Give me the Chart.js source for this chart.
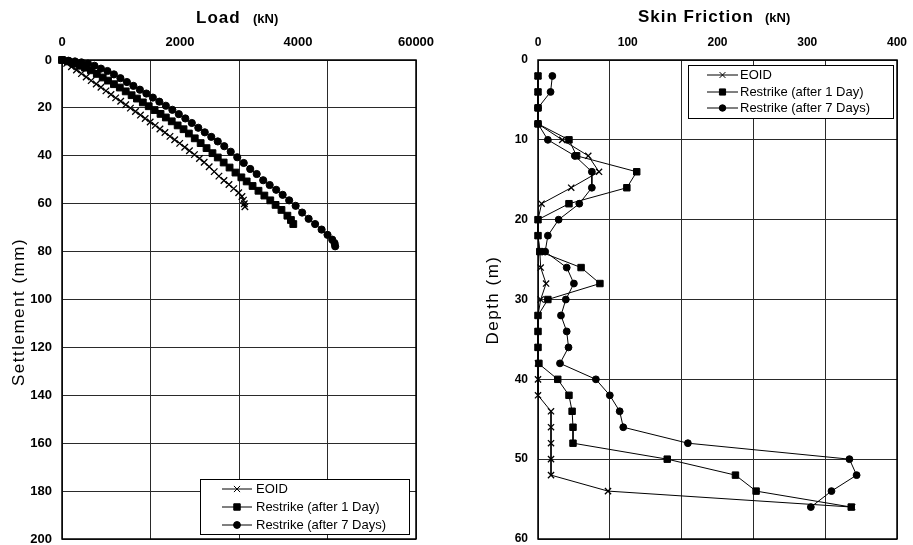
<!DOCTYPE html>
<html><head><meta charset="utf-8">
<script src="https://cdn.jsdelivr.net/npm/chart.js@4.4.1/dist/chart.umd.min.js"></script>
<style>
html,body{margin:0;padding:0;background:#fff;width:913px;height:545px;overflow:hidden}
canvas{position:absolute;top:0}
#c1{left:0}
#c2{left:460px}
</style></head><body>
<canvas id="c1" width="460" height="545"></canvas>
<canvas id="c2" width="453" height="545"></canvas>
<script>
// ---------- Left panel: Load vs Settlement ----------
const loadTicks = [0, 2000, 4000, 6000];
const loadTickLabels = ['0', '2000', '4000', '60000'];
const settlementTicks = [0, 20, 40, 60, 80, 100, 120, 140, 160, 180, 200];

const eoidLoad = [0,80,160,245,330,410,495,580,660,745,830,910,995,1080,1160,1245,1330,1410,1495,1580,1660,1745,1830,1910,1995,2080,2160,2245,2330,2410,2495,2580,2660,2745,2830,2910,2995,3050,3075,3090,3100];
const eoidSettlement = [0,1.4,2.8,4.2,5.7,7.1,8.6,10.0,11.4,12.9,14.4,15.8,17.2,18.7,20.1,21.5,23.0,24.4,25.9,27.3,28.8,30.3,31.9,33.3,34.8,36.4,37.9,39.5,41.1,42.7,44.6,46.6,48.5,50.3,52.0,53.7,55.4,57.0,58.5,60.0,61.3];

const day1Load = [0,100,200,300,390,490,590,690,780,880,980,1080,1180,1270,1370,1470,1570,1670,1760,1860,1960,2060,2150,2250,2350,2450,2550,2640,2740,2840,2940,3040,3130,3230,3330,3430,3530,3620,3720,3820,3880,3920];
const day1Settlement = [0,0.6,1.5,2.4,3.2,4.3,5.8,7.3,8.6,10.1,11.5,13.1,14.7,16.1,17.7,19.3,20.9,22.5,24.0,25.6,27.3,28.9,30.7,32.7,34.7,36.8,38.9,40.7,42.8,44.9,47.0,49.0,50.7,52.6,54.6,56.6,58.6,60.5,62.6,65.0,66.8,68.5];

const day7Load = [0,110,220,330,440,550,660,770,880,990,1100,1210,1320,1430,1540,1650,1760,1870,1980,2090,2200,2310,2420,2530,2640,2750,2860,2970,3080,3190,3300,3410,3520,3630,3740,3850,3960,4070,4180,4290,4400,4500,4580,4620,4630];
const day7Settlement = [0,0.3,0.6,1.0,1.5,2.4,3.6,4.6,6.0,7.6,9.2,10.8,12.4,14.0,15.7,17.4,19.1,20.8,22.6,24.4,26.3,28.3,30.2,32.1,34.0,36.0,38.3,40.6,43.0,45.5,47.6,50.2,52.2,54.2,56.3,58.6,60.9,63.7,66.3,68.5,70.8,73.0,75.0,76.5,77.8];

// ---------- Right panel: Skin friction vs Depth ----------
const frictionTicks = [0, 100, 200, 300, 400];
const depthTicks = [0, 10, 20, 30, 40, 50, 60];
const depth = [2,4,6,8,10,12,14,16,18,20,22,24,26,28,30,32,34,36,38,40,42,44,46,48,50,52,54,56];
const eoidFriction = [0,0,0,0,27,56,68,37,4,0,0,2,3,9,3,0,0,0,0,0,0,14.5,14.5,14.5,14.5,14.5,78,350];
const day1Friction = [0,0,0,0,34.5,43,110,99,34.5,0,0,2,48,69,11,0,0,0,1,22,34.5,38,39,39,144,220,243,349];
const day7Friction = [16,14,0,0,11,41,60,60,46,23,11,8,32,40,31,25.6,32,34,24.5,64.5,80,91,95,167,347,355,327,304];

const seriesLabels = ['EOID', 'Restrike (after 1 Day)', 'Restrike (after 7 Days)'];

const FONT = '"Liberation Sans", Arial, Helvetica, sans-serif';
const INK = '#000';
const GRID = '#2a2a2a';

function pts(xs, ys) { return xs.map((x, i) => ({ x: x, y: ys[i] })); }

function makeSets(d0, d1, d2, sc) {
  const base = { showLine: true, borderColor: INK, backgroundColor: INK, borderWidth: 1,
                 pointBorderColor: INK, pointBackgroundColor: INK, clip: false, tension: 0 };
  return [
    Object.assign({}, base, { label: seriesLabels[0], data: d0, pointStyle: 'crossRot', pointRadius: 4.6 * sc, pointBorderWidth: 1.3 }),
    Object.assign({}, base, { label: seriesLabels[1], data: d1, pointStyle: 'rect', pointRadius: 4.8 * sc, pointBorderWidth: 1 }),
    Object.assign({}, base, { label: seriesLabels[2], data: d2, pointStyle: 'circle', pointRadius: 3.6 * sc, pointBorderWidth: 1 })
  ];
}

const decor = {
  id: 'decor',
  beforeDatasetsDraw(chart) {
    const a = chart.chartArea, ctx = chart.ctx;
    ctx.save();
    ctx.strokeStyle = INK; ctx.lineWidth = 1.5;
    ctx.strokeRect(a.left, a.top, a.right - a.left, a.bottom - a.top);
    ctx.restore();
  },
  afterDraw(chart, args, o) {
    const ctx = chart.ctx;
    ctx.save();
    ctx.fillStyle = INK;
    ctx.textBaseline = 'alphabetic';
    // top title
    ctx.font = 'bold 17px ' + FONT;
    ctx.letterSpacing = '1px';
    ctx.textAlign = 'left';
    ctx.fillText(o.title, o.titleX, o.titleY);
    ctx.font = 'bold 13px ' + FONT;
    ctx.letterSpacing = '0px';
    ctx.fillText('(kN)', o.unitX, o.titleY);
    // y title
    ctx.save();
    ctx.translate(o.yTitleX, o.yTitleY);
    ctx.rotate(-Math.PI / 2);
    ctx.font = '17px ' + FONT;
    ctx.letterSpacing = '1.5px';
    ctx.textAlign = 'center';
    ctx.textBaseline = 'middle';
    ctx.fillText(o.yTitle, 0, 0);
    ctx.restore();
    ctx.letterSpacing = '0px';
    // legend
    const L = o.legend;
    ctx.fillStyle = '#fff';
    ctx.fillRect(L.x, L.y, L.w, L.h);
    ctx.strokeStyle = INK; ctx.lineWidth = 1;
    ctx.strokeRect(L.x + 0.5, L.y + 0.5, L.w, L.h);
    ctx.font = '13px ' + FONT;
    ctx.textAlign = 'left';
    ctx.textBaseline = 'middle';
    chart.data.datasets.forEach((ds, i) => {
      const y = L.rowY[i];
      ctx.strokeStyle = INK; ctx.lineWidth = 1;
      ctx.beginPath(); ctx.moveTo(L.lx1, y); ctx.lineTo(L.lx2, y); ctx.stroke();
      ctx.fillStyle = INK;
      Chart.helpers.drawPoint(ctx, { pointStyle: ds.pointStyle, radius: ds.pointRadius * 0.95,
                                     borderWidth: ds.pointBorderWidth, rotation: 0 }, (L.lx1 + L.lx2) / 2, y);
      ctx.fillStyle = INK;
      ctx.fillText(ds.label, L.tx, y + 0.5);
    });
    ctx.restore();
  }
};

function baseOptions(xMax, xTicks, xTickLabels, gridStep, yMax, yTicks, yWidth, padRight, tickSize, decorOpts) {
  const tf = { family: FONT, size: tickSize, weight: 'bold' };
  return {
    responsive: false, animation: false, events: [],
    layout: { padding: { left: 0, top: 0, right: padRight, bottom: 6 } },
    plugins: { legend: { display: false }, title: { display: false }, tooltip: { enabled: false }, decor: decorOpts },
    scales: {
      x: { type: 'linear', position: 'top', min: 0, max: xMax,
           afterBuildTicks: s => { s.ticks = xTicks.map(v => ({ value: v })); },
           ticks: { callback: (v, i) => xTickLabels[i], padding: 10, color: INK, font: tf, maxRotation: 0, autoSkip: false },
           grid: { display: false, drawTicks: false }, border: { display: false },
           afterFit: s => { s.height = 60; s.paddingLeft = 0; s.paddingRight = 0; } },
      xg: { type: 'linear', axis: 'x', position: 'bottom', min: 0, max: xMax,
            ticks: { display: false, stepSize: gridStep },
            grid: { color: GRID, lineWidth: 1, drawTicks: false }, border: { display: false },
            afterFit: s => { s.height = 0; s.paddingLeft = 0; s.paddingRight = 0; } },
      y: { type: 'linear', reverse: true, min: 0, max: yMax,
           afterBuildTicks: s => { s.ticks = yTicks.map(v => ({ value: v })); },
           ticks: { padding: 10, color: INK, font: tf, autoSkip: false },
           grid: { color: GRID, lineWidth: 1, drawTicks: false }, border: { display: false },
           afterFit: s => { s.width = yWidth; s.paddingTop = 0; s.paddingBottom = 0; } }
    }
  };
}

new Chart(document.getElementById('c1'), {
  type: 'scatter',
  data: { datasets: makeSets(pts(eoidLoad, eoidSettlement), pts(day1Load, day1Settlement), pts(day7Load, day7Settlement), 1) },
  options: baseOptions(6000, loadTicks, loadTickLabels, 1500, 200, settlementTicks, 62, 44, 13, {
    title: 'Load', titleX: 196, titleY: 23, unitX: 253,
    yTitle: 'Settlement (mm)', yTitleX: 19, yTitleY: 312,
    legend: { x: 200, y: 479, w: 209, h: 55, rowY: [489, 507, 525], lx1: 222, lx2: 252, tx: 256 }
  }),
  plugins: [decor]
});

new Chart(document.getElementById('c2'), {
  type: 'scatter',
  data: { datasets: makeSets(pts(eoidFriction, depth), pts(day1Friction, depth), pts(day7Friction, depth), 0.95) },
  options: baseOptions(400, frictionTicks, frictionTicks.map(String), 80, 60, depthTicks, 78, 16, 12, {
    title: 'Skin Friction', titleX: 178, titleY: 22, unitX: 305,
    yTitle: 'Depth (m)', yTitleX: 33, yTitleY: 300,
    legend: { x: 228, y: 65, w: 205, h: 53, rowY: [75, 92, 108], lx1: 247, lx2: 278, tx: 280 }
  }),
  plugins: [decor]
});
</script>
</body></html>
